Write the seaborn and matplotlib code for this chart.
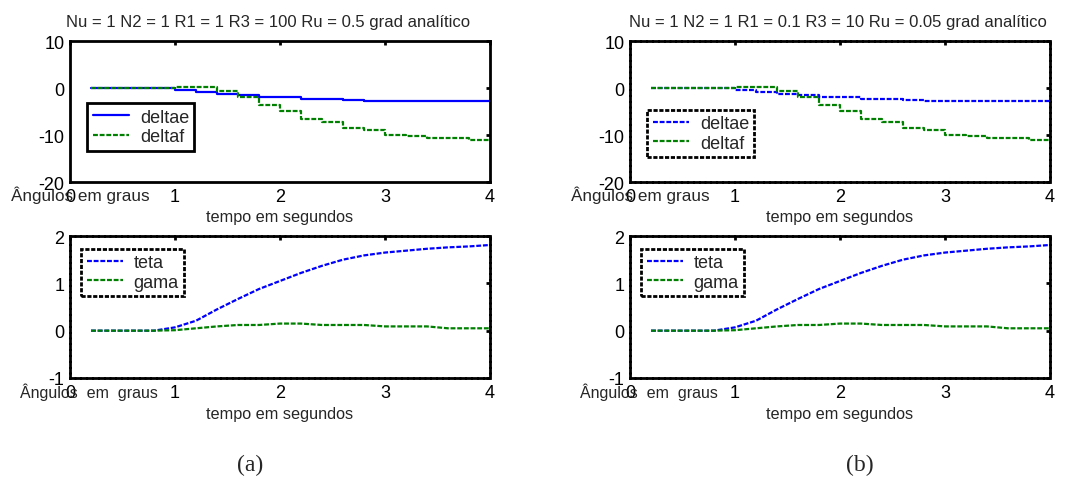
import matplotlib
matplotlib.use('Agg')
import matplotlib.pyplot as plt
import seaborn as sns
import pandas as pd

# time samples (s)
tempo = [0.2, 0.4, 0.6, 0.8, 1.0, 1.2, 1.4, 1.6, 1.8, 2.0,
         2.2, 2.4, 2.6, 2.8, 3.0, 3.2, 3.4, 3.6, 3.8, 4.0]

# control surfaces (graus)
deltae = [0, 0, 0, 0, -0.35, -0.8, -1.2, -1.5, -1.9, -1.95,
          -2.4, -2.4, -2.45, -2.8, -2.8, -2.8, -2.8, -2.8, -2.8, -2.8]
deltaf = [0, 0, 0, 0, 0.15, 0.15, -0.7, -1.9, -3.6, -4.8,
          -6.5, -7.3, -8.6, -9.0, -9.9, -10.3, -10.7, -10.7, -11.1, -11.1]

# states (graus)
teta = [0, 0, 0, 0.0, 0.07, 0.21, 0.45, 0.67, 0.88, 1.05,
        1.22, 1.37, 1.5, 1.59, 1.65, 1.69, 1.73, 1.76, 1.78, 1.81]
gama = [0, 0, 0, 0, 0.01, 0.05, 0.09, 0.12, 0.12, 0.15,
        0.15, 0.12, 0.12, 0.12, 0.09, 0.09, 0.09, 0.05, 0.05, 0.05]

titulos = ['Nu = 1 N2 = 1 R1 = 1 R3 = 100 Ru = 0.5 grad analítico',
           'Nu = 1 N2 = 1 R1 = 0.1 R3 = 10 Ru = 0.05 grad analítico']
legendas = ['(a)', '(b)']

sns.set_style('white')
plt.rcParams['font.family'] = ['Liberation Sans', 'DejaVu Sans']
plt.rcParams['axes.unicode_minus'] = False

df = pd.DataFrame({'tempo': tempo, 'deltae': deltae, 'deltaf': deltaf,
                   'teta': teta, 'gama': gama})

AZUL = '#0000ff'
VERDE = '#008000'
tracejado = (0, (2.2, 0.8))
pontilhado = (0, (1.5, 0.6))

fig = plt.figure(figsize=(10.8, 4.81), dpi=100)

def estilo(ax, solido):
    for s in ax.spines.values():
        s.set_color('black')
        s.set_linewidth(2)
        if not solido:
            s.set_linestyle(pontilhado)
    ax.tick_params(direction='in', top=True, right=True, length=3, width=2,
                   labelsize=13, pad=4, colors='black')
    ax.set_xlim(0, 4)
    ax.set_xticks([0, 1, 2, 3, 4])


def legenda(ax, **kw):
    leg = ax.legend(fontsize=13, fancybox=False, framealpha=1,
                    edgecolor='black', handlelength=2.0, borderpad=0.3,
                    labelspacing=0.15, handletextpad=0.6, **kw)
    leg.get_frame().set_linewidth(2)
    return leg


paineis = [(70, 250, 0.471), (630, 860, 0.495)]

for i, (x0, xcap, xtit) in enumerate(paineis):
    left = x0 / 1080
    w = 420 / 1080
    # painel superior
    ax1 = fig.add_axes([left, 1 - 183 / 481, w, 141 / 481])
    sns.lineplot(data=df, x='tempo', y='deltae', ax=ax1, color=AZUL,
                 drawstyle='steps-post', lw=1.6,
                 ls='-' if i == 0 else tracejado, label='deltae')
    sns.lineplot(data=df, x='tempo', y='deltaf', ax=ax1, color=VERDE,
                 drawstyle='steps-post', lw=1.6, ls=tracejado, label='deltaf')
    estilo(ax1, i == 0)
    ax1.set_ylim(-20, 10)
    ax1.set_yticks([-20, -10, 0, 10])
    ax1.set_title(titulos[i], fontsize=12, pad=11, x=xtit)
    ax1.set_xlabel('tempo em segundos', fontsize=11.7, labelpad=3)
    ax1.set_ylabel('')
    ax1.text(-0.14, -0.085, 'Ângulos em graus', transform=ax1.transAxes,
             fontsize=12.3, va='center', ha='left')
    leg = legenda(ax1, loc='center left',
                  bbox_to_anchor=(0.02, 0.39 if i == 0 else 0.345))
    if i == 1:
        leg.get_frame().set_linestyle(pontilhado)

    # painel inferior
    ax2 = fig.add_axes([left, 1 - 379 / 481, w, 142 / 481])
    sns.lineplot(data=df, x='tempo', y='teta', ax=ax2, color=AZUL,
                 lw=1.6, ls=tracejado, label='teta')
    sns.lineplot(data=df, x='tempo', y='gama', ax=ax2, color=VERDE,
                 lw=1.6, ls=tracejado, label='gama')
    estilo(ax2, False)
    ax2.set_ylim(-1, 2)
    ax2.set_yticks([-1, 0, 1, 2])
    ax2.set_xlabel('tempo em segundos', fontsize=11.7, labelpad=4)
    ax2.set_ylabel('')
    ax2.text(-0.12, -0.09, 'Ângulos  em  graus', transform=ax2.transAxes,
             fontsize=11.5, va='center', ha='left')
    leg2 = legenda(ax2, loc='upper left', bbox_to_anchor=(0.005, 0.975))
    leg2.get_frame().set_linestyle(pontilhado)

    fig.text(xcap / 1080, 1 - 465 / 481, legendas[i], fontsize=17,
             family='Liberation Serif', ha='center', va='center')

fig.savefig('out.png', dpi=100)
